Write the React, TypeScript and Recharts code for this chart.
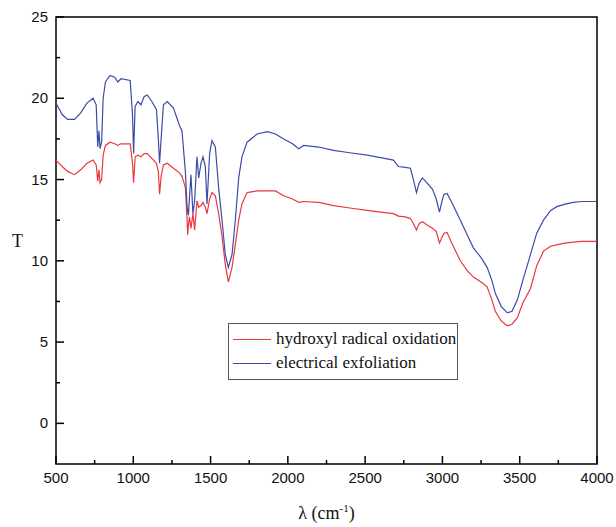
import { LineChart, Line, XAxis, YAxis, ReferenceArea, Legend } from 'recharts';

// wavenumber (cm-1)
const wavenumber = [
  500, 540, 575, 620, 660, 700, 740, 760, 770, 778, 785, 795, 805, 820, 850, 880, 900, 920, 980, 995,
  1002, 1012, 1030, 1050, 1070, 1090, 1120, 1150, 1162, 1170, 1180, 1195, 1220, 1260, 1300, 1315, 1337, 1347, 1352, 1357,
  1363, 1373, 1386, 1397, 1412, 1423, 1438, 1451, 1466, 1477, 1494, 1509, 1531, 1552, 1574, 1595, 1615, 1639, 1660, 1682,
  1703, 1736, 1801, 1868, 1920, 1973, 2030, 2070, 2102, 2200, 2296, 2400, 2513, 2600, 2683, 2715, 2760, 2793, 2812, 2832,
  2850, 2871, 2900, 2936, 2960, 2981, 2995, 3010, 3030, 3060, 3116, 3160, 3200, 3250, 3289, 3320, 3342, 3380, 3420, 3450,
  3485, 3520, 3570, 3610, 3654, 3700, 3744, 3800, 3848, 3900, 4000,
];

const hydroxyl = [
  16.2, 15.8, 15.5, 15.3, 15.6, 16.0, 16.2, 15.9, 14.9, 15.6, 14.8, 15.0, 16.5, 17.1, 17.3, 17.2, 17.1, 17.2, 17.2, 16.0,
  14.8, 16.4, 16.5, 16.4, 16.6, 16.6, 16.3, 16.0, 15.5, 14.1, 15.2, 15.9, 16.0, 15.7, 15.4, 15.2, 14.5, 12.7, 11.6, 12.2,
  12.7, 12.0, 12.9, 11.9, 13.7, 13.3, 13.4, 13.6, 13.3, 12.9, 13.8, 14.2, 14.0, 12.9, 11.5, 9.8, 8.7, 9.6, 11.0, 12.5,
  13.5, 14.2, 14.3, 14.3, 14.3, 14.0, 13.8, 13.6, 13.65, 13.6, 13.4, 13.25, 13.1, 13.0, 12.9, 12.75, 12.7, 12.6, 12.3, 11.9,
  12.3, 12.4, 12.2, 12.0, 11.8, 11.1, 11.4, 11.7, 11.75, 11.1, 10.0, 9.4, 9.0, 8.7, 8.4, 7.6, 6.9, 6.3, 6.0, 6.1,
  6.5, 7.4, 8.3, 9.7, 10.6, 10.9, 11.0, 11.1, 11.15, 11.2, 11.2,
];

const electrical = [
  19.7, 19.0, 18.7, 18.7, 19.1, 19.7, 20.0, 19.6, 17.0, 18.0, 16.9, 17.3, 20.0, 21.0, 21.4, 21.3, 21.0, 21.2, 21.1, 19.0,
  16.6, 19.5, 19.8, 19.6, 20.1, 20.2, 19.8, 19.3, 17.5, 16.0, 17.5, 19.6, 19.8, 19.4, 18.3, 18.0, 15.5, 13.5, 13.0, 12.8,
  13.8, 15.3, 12.9, 13.7, 16.4, 15.1, 16.0, 16.4, 15.8, 13.5, 16.6, 17.4, 17.0, 14.5, 12.5, 10.4, 9.6, 10.4, 12.5, 15.1,
  16.4, 17.3, 17.8, 17.95, 17.8, 17.5, 17.2, 16.9, 17.1, 17.0, 16.8, 16.65, 16.5, 16.35, 16.2, 15.8, 15.75, 15.7, 15.0, 14.2,
  14.8, 15.1, 14.8, 14.4, 13.8, 13.0, 13.6, 14.1, 14.15, 13.6, 12.5, 11.6, 10.8, 10.2, 9.6, 8.8, 8.0, 7.2, 6.8, 6.9,
  7.6, 8.8, 10.4, 11.7, 12.5, 13.1, 13.35, 13.5, 13.6, 13.65, 13.65,
];

const seriesOrder = ['hydroxyl radical oxidation', 'electrical exfoliation'];

const xTicks = [500, 750, 1000, 1250, 1500, 1750, 2000, 2250, 2500, 2750, 3000, 3250, 3500, 3750, 4000];
const yTicks = [0, 2.5, 5, 7.5, 10, 12.5, 15, 17.5, 20, 22.5, 25];

const data = wavenumber.map((x, i) => ({ x, hydroxyl: hydroxyl[i], electrical: electrical[i] }));

const tickFont = { fontFamily: 'Liberation Sans, Arial, sans-serif', fontSize: 15, fill: '#111' };

function XTick({ x, y, payload }: any) {
  const major = payload.value % 500 === 0;
  return (
    <g>
      <line x1={x} x2={x} y1={y} y2={y - (major ? 8 : 4)} stroke="#000" strokeWidth={1.5} />
      {major && (
        <text x={x} y={y + 19} textAnchor="middle" {...tickFont}>
          {payload.value}
        </text>
      )}
    </g>
  );
}

function YTick({ x, y, payload }: any) {
  const major = payload.value % 5 === 0;
  return (
    <g>
      <line x1={x} x2={x + (major ? 8 : 4)} y1={y} y2={y} stroke="#000" strokeWidth={1.5} />
      {major && (
        <text x={x - 8} y={y + 5} textAnchor="end" {...tickFont}>
          {payload.value}
        </text>
      )}
    </g>
  );
}

function XLabel({ viewBox }: any) {
  const cx = viewBox.x + viewBox.width / 2;
  return (
    <text x={cx} y={viewBox.y + 55} textAnchor="middle" fontFamily="Liberation Serif, serif" fontSize={18} fill="#111">
      λ (cm<tspan dy={-7} fontSize={11}>-1</tspan>
      <tspan dy={7}>)</tspan>
    </text>
  );
}

function LegendBox({ payload }: any) {
  const items = [...(payload || [])].sort(
    (a: any, b: any) => seriesOrder.indexOf(a.value) - seriesOrder.indexOf(b.value)
  );
  return (
    <div
      style={{
        border: '1px solid #555',
        width: 230,
        height: 57,
        boxSizing: 'border-box',
        padding: '3px 0 0 4px',
        background: '#fff',
        fontFamily: 'Liberation Serif, serif',
        fontSize: 17,
        color: '#111',
      }}
    >
      {items.map((p: any) => (
        <div key={p.value} style={{ display: 'flex', alignItems: 'center', height: 24 }}>
          <span style={{ display: 'inline-block', width: 38, height: 0, borderTop: `1.5px solid ${p.color}`, marginRight: 5 }} />
          <span style={{ whiteSpace: 'nowrap' }}>{p.value}</span>
        </div>
      ))}
    </div>
  );
}

export default function App() {
  return (
    <div style={{ position: 'fixed', left: 0, top: 0, width: 616, height: 527, background: '#fff' }}>
      <LineChart width={616} height={527} data={data} margin={{ top: 17, right: 19, bottom: 23, left: 16 }}>
        <XAxis
          dataKey="x"
          type="number"
          domain={[500, 4000]}
          ticks={xTicks}
          interval={0}
          tickSize={0}
          tickMargin={0}
          height={40}
          axisLine={false}
          tick={(p: any) => <XTick {...p} />}
          label={<XLabel />}
        />
        <YAxis
          type="number"
          domain={[-2.5, 25]}
          ticks={yTicks}
          interval={0}
          tickSize={0}
          tickMargin={0}
          width={40}
          axisLine={false}
          allowDataOverflow
          tick={(p: any) => <YTick {...p} />}
          label={{ value: 'T', position: 'insideLeft', offset: -4, style: { fontFamily: 'Liberation Serif, serif', fontSize: 18, fill: '#111' } }}
        />
        <Line
          dataKey="hydroxyl"
          name="hydroxyl radical oxidation"
          type="linear"
          stroke="#e8383d"
          strokeWidth={1.2}
          dot={false}
          isAnimationActive={false}
        />
        <Line
          dataKey="electrical"
          name="electrical exfoliation"
          type="linear"
          stroke="#3b4ba6"
          strokeWidth={1.2}
          dot={false}
          isAnimationActive={false}
        />
        <ReferenceArea x1={500} x2={4000} y1={-2.5} y2={25} fill="none" stroke="#000" strokeWidth={1.5} />
        <Legend
          layout="horizontal"
          verticalAlign="middle"
          align="center"
          content={<LegendBox />}
          wrapperStyle={{ left: 228, top: 323, width: 'auto' }}
        />
      </LineChart>
    </div>
  );
}
